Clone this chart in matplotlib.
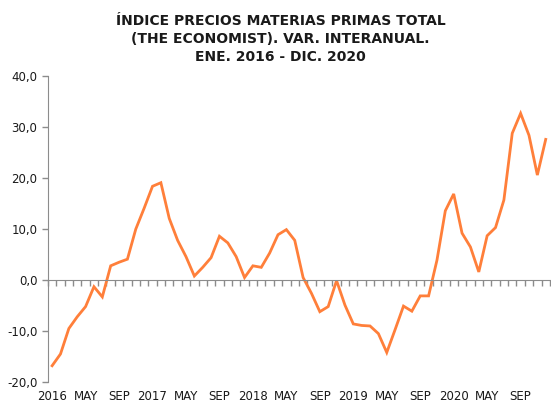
import matplotlib
matplotlib.use("Agg")
import matplotlib.pyplot as plt
from matplotlib.ticker import FuncFormatter

LINE_COLOR = "#FF7F3A"
AXIS_COLOR = "#8C8C8C"
TEXT_COLOR = "#1A1A1A"

TITLE = "ÍNDICE PRECIOS MATERIAS PRIMAS TOTAL\n(THE ECONOMIST). VAR. INTERANUAL.\nENE. 2016 - DIC. 2020"

# monthly year-on-year change, Jan 2016 .. Dec 2020
values = [
    -16.8, -14.5, -9.5, -7.2, -5.2, -1.3, -3.3, 2.8, 3.5, 4.1, 10.0, 14.1,
    18.4, 19.1, 12.1, 7.8, 4.6, 0.8, 2.5, 4.4, 8.6, 7.3, 4.6, 0.5,
    2.8, 2.5, 5.3, 8.9, 9.9, 7.8, 0.5, -2.6, -6.2, -5.2, -0.1, -4.9,
    -8.6, -8.9, -9.0, -10.5, -14.2, -9.7, -5.1, -6.1, -3.1, -3.1, 3.9, 13.6,
    16.9, 9.2, 6.5, 1.6, 8.7, 10.3, 15.7, 28.8, 32.7, 28.4, 20.6, 27.6,
]
month_labels = ["2016", "MAY", "SEP", "2017", "MAY", "SEP", "2018", "MAY", "SEP",
                "2019", "MAY", "SEP", "2020", "MAY", "SEP"]
y_ticks = [-20, -10, 0, 10, 20, 30, 40]

fig = plt.figure(figsize=(5.51, 4.03), dpi=100, facecolor="white")
ax = fig.add_axes([0.087, 0.052, 0.911, 0.759])

x = list(range(len(values)))
ax.plot(x, values, color=LINE_COLOR, linewidth=2.0, solid_joinstyle="miter")

ax.set_xlim(-0.5, len(values) - 0.5)
ax.set_ylim(-20, 40)
ax.set_yticks(y_ticks)
ax.yaxis.set_major_formatter(FuncFormatter(lambda v, _: f"{v:.1f}".replace(".", ",")))
ax.tick_params(axis="y", colors=AXIS_COLOR, labelcolor=TEXT_COLOR, labelsize=8.5,
               length=4, width=1, direction="out")

# category axis drawn on the zero line, ticks between months
ax.spines["bottom"].set_position(("data", 0))
ax.spines["bottom"].set_color(AXIS_COLOR)
ax.spines["left"].set_color(AXIS_COLOR)
ax.spines["top"].set_visible(False)
ax.spines["right"].set_visible(False)
ax.set_xticks([i - 0.5 for i in range(len(values) + 1)])
ax.tick_params(axis="x", colors=AXIS_COLOR, labelbottom=False, length=4, width=1,
               direction="out")

# month labels at the bottom of the plot area
sec = ax.secondary_xaxis(0)
sec.set_xticks(list(range(0, len(values), 4)))
sec.set_xticklabels(month_labels)
sec.tick_params(length=0, labelsize=8.5, labelcolor=TEXT_COLOR, pad=6)
sec.spines["bottom"].set_visible(False)

fig.text(0.509, 0.965, TITLE, ha="center", va="top", fontsize=10, fontweight="bold",
         color=TEXT_COLOR, linespacing=1.38)

fig.savefig("out.png", dpi=100, facecolor="white")
